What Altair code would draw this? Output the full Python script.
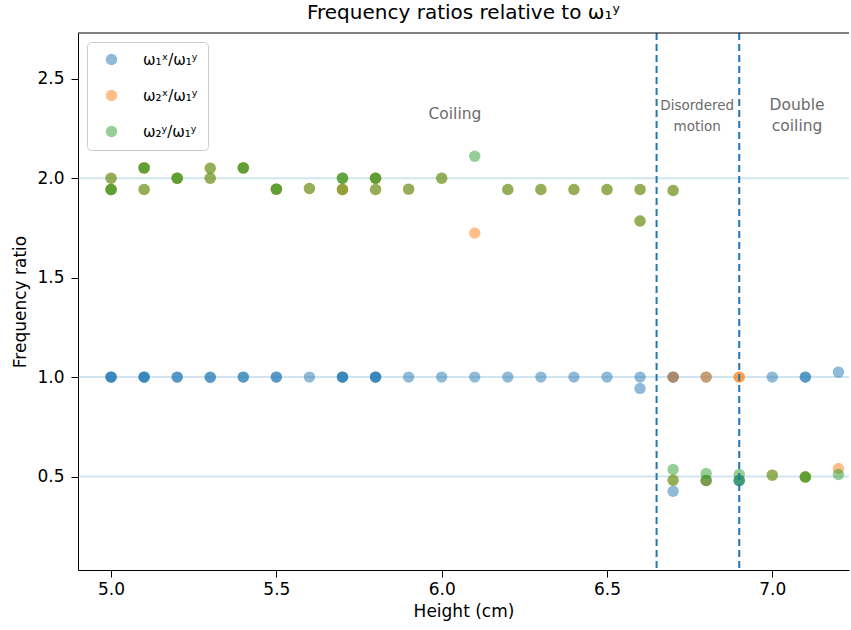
import altair as alt
import pandas as pd

# ---- data ----
series_names = ["ω₁ˣ/ω₁ʸ", "ω₂ˣ/ω₁ʸ", "ω₂ʸ/ω₁ʸ"]
series_colors = ["#1f77b4", "#ff7f0e", "#2ca02c"]

blue_h = [5.0, 5.0, 5.0, 5.1, 5.1, 5.1, 5.2, 5.2, 5.3, 5.3, 5.4, 5.4, 5.5, 5.5,
          5.6, 5.7, 5.7, 5.7, 5.8, 5.8, 5.8, 5.9, 6.0, 6.1, 6.2, 6.3, 6.4, 6.5,
          6.6, 6.6, 6.7, 6.7, 6.7, 6.8, 6.8, 6.9, 6.9, 7.0, 7.1, 7.1, 7.2]
blue_r = [1.0, 1.0, 1.0, 1.0, 1.0, 1.0, 1.0, 1.0, 1.0, 0.998, 1.0, 1.0, 1.0, 1.0,
          1.0, 1.0, 1.0, 1.0, 1.0, 1.0, 1.0, 1.0, 1.0, 1.0, 1.0, 1.0, 1.0, 1.0,
          1.0, 0.943, 1.0, 1.0, 0.426, 1.0, 0.48, 0.48, 0.48, 1.0, 1.0, 1.0, 1.025]

orange_h = [5.0, 5.0, 5.0, 5.1, 5.1, 5.1, 5.2, 5.2, 5.3, 5.3, 5.4, 5.4, 5.5, 5.5,
            5.6, 5.7, 5.7, 5.7, 5.8, 5.8, 5.8, 5.9, 6.0, 6.1, 6.2, 6.3, 6.4, 6.5,
            6.6, 6.6, 6.7, 6.7, 6.7, 6.8, 6.8, 6.9, 6.9, 7.0, 7.1, 7.1, 7.2]
orange_r = [2.0, 1.943, 1.943, 2.052, 2.052, 1.943, 2.0, 2.0, 2.05, 2.0, 2.052, 2.052, 1.945, 1.945,
            1.948, 2.0, 1.943, 1.943, 2.0, 2.0, 1.943, 1.945, 2.0, 1.724, 1.943, 1.943, 1.943, 1.943,
            1.943, 1.785, 1.938, 1.0, 0.481, 1.0, 0.48, 1.0, 1.0, 0.507, 0.498, 0.498, 0.54]

green_h = [5.0, 5.0, 5.0, 5.1, 5.1, 5.1, 5.2, 5.2, 5.3, 5.3, 5.4, 5.4, 5.5, 5.5,
           5.6, 5.7, 5.7, 5.7, 5.8, 5.8, 5.8, 5.9, 6.0, 6.1, 6.2, 6.3, 6.4, 6.5,
           6.6, 6.6, 6.7, 6.7, 6.7, 6.8, 6.8, 6.9, 6.9, 7.0, 7.1, 7.1, 7.2]
green_r = [2.0, 1.943, 1.943, 2.052, 2.052, 1.943, 2.0, 2.0, 2.05, 2.0, 2.052, 2.052, 1.945, 1.945,
           1.948, 2.0, 2.0, 1.943, 2.0, 2.0, 1.943, 1.945, 2.0, 2.11, 1.943, 1.943, 1.943, 1.943,
           1.943, 1.785, 1.938, 0.535, 0.481, 0.515, 0.48, 0.51, 0.48, 0.507, 0.498, 0.498, 0.51]

ref_lines = [2.0, 1.0, 0.5]
regime_bounds = [6.65, 6.9]

label_text = ["Coiling", "Disordered\nmotion", "Double\ncoiling"]
label_x = [6.04, 6.773, 7.075]
label_y = [2.325, 2.365, 2.37]
label_size = [15.5, 13.5, 15.5]

x_domain = [4.9, 7.232]
y_domain = [0.03, 2.73]
x_ticks = [5.0, 5.5, 6.0, 6.5, 7.0]
y_ticks = [0.5, 1.0, 1.5, 2.0, 2.5]

# ---- build table ----
rows = []
for name, hs, rs in zip(series_names, [blue_h, orange_h, green_h], [blue_r, orange_r, green_r]):
    for h, r in zip(hs, rs):
        rows.append({"series": name, "height": h, "ratio": r})
df = pd.DataFrame(rows)
df["idx"] = range(len(df))

xs = alt.Scale(domain=x_domain, nice=False, zero=False)
ys = alt.Scale(domain=y_domain, nice=False, zero=False)

x_axis = alt.Axis(values=x_ticks, format=".1f", title="Height (cm)", grid=False,
                  tickSize=7, labelPadding=4, titlePadding=6)
y_axis = alt.Axis(values=y_ticks, format=".1f", title="Frequency ratio", grid=False,
                  tickSize=7, labelPadding=7, titlePadding=7)

hlines = alt.Chart(pd.DataFrame({"y": ref_lines})).mark_rule(
    color="#1f77b4", opacity=0.2, strokeWidth=2
).encode(y=alt.Y("y:Q", scale=ys, axis=y_axis))

points = alt.Chart(df).mark_circle(size=130, opacity=0.5).encode(
    x=alt.X("height:Q", scale=xs, axis=x_axis),
    y=alt.Y("ratio:Q", scale=ys, axis=y_axis),
    color=alt.Color("series:N",
                    scale=alt.Scale(domain=series_names, range=series_colors),
                    legend=alt.Legend(title=None, orient="none", legendX=9, legendY=9,
                                      symbolOpacity=0.5, symbolSize=130, symbolType="circle",
                                      labelFontSize=15, rowPadding=20, padding=10,
                                      symbolOffset=7, labelOffset=24,
                                      strokeColor="#cccccc", cornerRadius=4,
                                      fillColor="white")),
    order=alt.Order("idx:Q"),
)

vlines = alt.Chart(pd.DataFrame({"x": regime_bounds})).mark_rule(
    color="#1f77b4", strokeWidth=2, strokeDash=[7, 4]
).encode(x=alt.X("x:Q", scale=xs, axis=x_axis))

labels_df = pd.DataFrame({"text": label_text, "x": label_x, "y": label_y, "size": label_size})
labels = alt.Chart(labels_df).mark_text(
    color="#6b6b6b", font="DejaVu Sans", lineBreak="\n", align="center", baseline="middle",
    lineHeight=21
).encode(
    x=alt.X("x:Q", scale=xs, axis=x_axis),
    y=alt.Y("y:Q", scale=ys, axis=y_axis),
    text="text:N",
    size=alt.Size("size:Q", scale=None, legend=None),
)

top_spine = alt.Chart(pd.DataFrame({"y": [y_domain[1]]})).mark_rule(
    color="black", strokeWidth=1
).encode(y=alt.Y("y:Q", scale=ys, axis=y_axis))

chart = alt.layer(hlines, points, labels, vlines, top_spine).properties(
    width=771, height=537,
    title=alt.TitleParams("Frequency ratios relative to ω₁ʸ", fontSize=20,
                          fontWeight="normal", font="DejaVu Sans", offset=9,
                          color="black"),
    autosize=alt.AutoSizeParams(type="none"),
    padding={"left": 78, "top": 33, "right": 2, "bottom": 60},
).configure_view(stroke=None).configure_axis(
    labelFont="DejaVu Sans", titleFont="DejaVu Sans", labelFontSize=17, titleFontSize=17,
    labelColor="black", titleColor="black", titleFontWeight="normal",
    domainColor="black", tickColor="black", domainWidth=1, tickWidth=1,
).configure_legend(labelFont="DejaVu Sans", labelColor="black")

chart.save("out.html", embed_options={"renderer": "svg", "actions": False})
